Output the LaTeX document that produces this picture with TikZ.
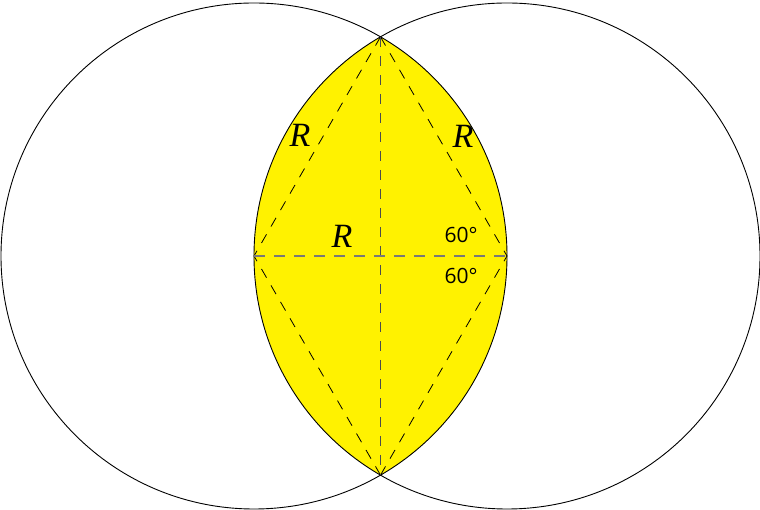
\documentclass[tikz,border=0pt]{standalone}
\usepackage{fontspec}
\setmainfont{Liberation Serif}
\newfontfamily\degfont{Open Sans}
\usepackage{tikz}
\usetikzlibrary{calc}
\definecolor{lensyellow}{RGB}{255,242,0}
\definecolor{dashgray}{RGB}{120,120,120}

\begin{document}
\begin{tikzpicture}[
  x=1pt, y=1pt,
  circ/.style={draw=black, line width=0.9pt},
  lens/.style={fill=lensyellow},
  side/.style={draw=black, line width=0.8pt, dash pattern=on 10pt off 9pt},
  axis/.style={draw=dashgray, line width=2pt, dash pattern=on 11pt off 9pt},
  chord/.style={draw=black!70, line width=1pt, dash pattern=on 10pt off 9pt},
  rlabel/.style={font=\fontsize{34}{34}\selectfont\itshape, inner sep=0pt},
  angle/.style={font=\degfont\fontsize{21}{21}\selectfont, inner sep=0pt}
]
\useasboundingbox (0,0) rectangle (760,510);

\coordinate (O1) at (254,254);
\coordinate (O2) at (507,254);
\coordinate (A) at ($(O1)+(60:253)$);
\coordinate (B) at ($(O1)+(-60:253)$);

% lens
\fill[lens] (A) arc[start angle=60, end angle=-60, radius=253]
  arc[start angle=240, end angle=120, radius=253] -- cycle;

\draw[circ] (O1) circle[radius=253];
\draw[circ] (O2) circle[radius=253];

\draw[side] (A) -- (O1);
\draw[side] (A) -- (O2);
\draw[side] (B) -- (O1);
\draw[side] (B) -- (O2);
\draw[chord] (A) -- (B);
\draw[axis] (O1) -- (O2);

\node[rlabel] (rleft) at (300,375) {R};
\node[rlabel] (rright) at (463,374) {R};
\node[rlabel] (rmid) at (342,274) {R};
\node[angle] (atop) at (461,275) {60°};
\node[angle] (abot) at (461,234) {60°};

\end{tikzpicture}
\end{document}
